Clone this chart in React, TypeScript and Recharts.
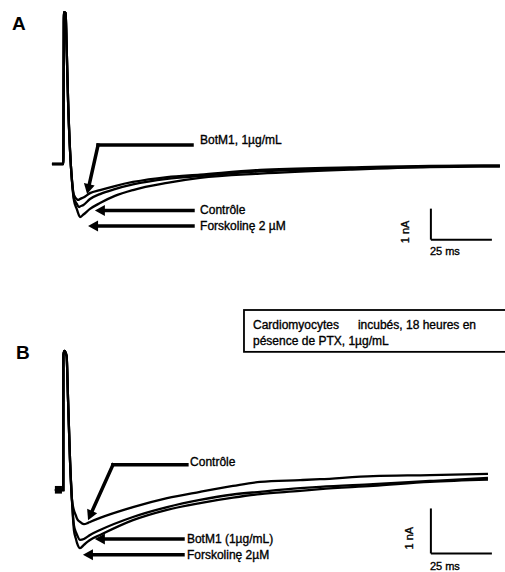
import React from "react";
import { LineChart, Line, XAxis, YAxis, ReferenceLine, ReferenceDot, ReferenceArea } from "recharts";

// time in ms, current in nA
const timeA = [0.8, 5.45, 5.7, 6.4, 6.8, 7.4, 8.2, 9.0, 9.8, 11.1, 11.5, 11.9, 12.3, 13.7, 16.4, 20.5, 26.6, 34.0, 48.0, 61.5, 86.1, 123.0, 155.7, 184.4];
const botm1A = [0, 0, 4.9, 4.87, 3.84, 2.06, 0.45, -0.52, -1.0, -1.14, -1.16, -1.15, -1.13, -1.08, -0.94, -0.84, -0.71, -0.58, -0.42, -0.34, -0.19, -0.11, -0.06, -0.05];
const controleA = [0, 0, 4.9, 4.87, 3.84, 2.06, 0.45, -0.52, -1.1, -1.3, -1.36, -1.39, -1.37, -1.32, -1.13, -0.97, -0.81, -0.66, -0.48, -0.39, -0.24, -0.15, -0.08, -0.05];
const forskolineA = [0, 0, 4.9, 4.87, 3.84, 2.06, 0.45, -0.55, -1.16, -1.48, -1.58, -1.66, -1.71, -1.63, -1.45, -1.26, -1.03, -0.84, -0.61, -0.45, -0.31, -0.18, -0.1, -0.08];

const timeB = [2.0, 5.45, 5.5, 5.9, 6.8, 7.4, 8.2, 9.0, 9.8, 10.7, 11.1, 12.3, 13.9, 15.6, 16.4, 20.5, 34.0, 48.0, 61.5, 75.0, 86.1, 102.5, 110.7, 132.4, 155.7, 179.5];
const controleB = [0, 0, 3.0, 3.09, 2.98, 2.0, 0.67, -0.22, -0.45, -0.58, -0.64, -0.71, -0.76, -0.73, -0.71, -0.62, -0.38, -0.18, -0.04, 0.09, 0.18, 0.22, 0.24, 0.31, 0.33, 0.36];
const botm1B = [0, 0, 3.0, 3.09, 2.98, 2.0, 0.67, -0.22, -0.78, -0.95, -1.0, -1.11, -1.09, -1.03, -1.0, -0.89, -0.6, -0.38, -0.22, -0.1, -0.04, 0.04, 0.07, 0.13, 0.2, 0.27];
const forskolineB = [0, 0, 3.0, 3.09, 2.98, 2.0, 0.67, -0.22, -0.89, -1.1, -1.18, -1.29, -1.22, -1.14, -1.11, -1.0, -0.67, -0.44, -0.29, -0.17, -0.09, -0.02, 0.02, 0.09, 0.18, 0.23];

// annotation arrows: label, path (ms, nA) ending at the arrow tip, label anchor
const arrowsA = [
  { label: "BotM1, 1µg/mL", path: [[58.2, 0.61], [19.7, 0.61], [15.2, -0.97]], at: [61.5, 0.77] },
  { label: "Contrôle", path: [[58.6, -1.5], [18.4, -1.5]], at: [61.5, -1.48] },
  { label: "Forskolinę 2 µM", path: [[58.6, -2.0], [15.6, -2.0]], at: [61.5, -2.0] },
];
const arrowsB = [
  { label: "Contrôle", path: [[56.1, 0.56], [25.8, 0.56], [15.6, -0.67]], at: [57.4, 0.62] },
  { label: "BotM1 (1µg/mL)", path: [[54.5, -1.09], [18.4, -1.09]], at: [56.1, -1.09] },
  { label: "Forskolinę 2µM", path: [[54.5, -1.44], [13.5, -1.44]], at: [56.1, -1.44] },
];

// scale bars: corner, 25 ms / 1 nA, label anchors
const scaleA = { corner: [156.1, -2.44], nA: [145.7, -2.19], ms: [155.7, -2.81] };
const scaleB = { corner: [156.1, -1.41], nA: [147.1, -1.07], ms: [155.7, -1.69] };

const PX_PER_MS = 2.44;
const FONT = "'Liberation Sans', Arial, sans-serif";
const W = 505;
const LEFT = 50;
const xMax = (W - LEFT) / PX_PER_MS;

const rows = (t: number[], a: number[], b: number[], c: number[]) =>
  t.map((v, i) => ({ t: v, bot: a[i], ctrl: b[i], forsk: c[i] }));

const arrowShape = (head: boolean) => (p: any) => {
  const { x1, y1, x2, y2 } = p;
  if (!head) {
    return <line x1={x1} y1={y1} x2={x2} y2={y2} stroke="#000" strokeWidth={3.5} strokeLinecap="square" />;
  }
  const dx = x2 - x1;
  const dy = y2 - y1;
  const len = Math.hypot(dx, dy) || 1;
  const ux = dx / len;
  const uy = dy / len;
  const hl = 10;
  const hw = 5.5;
  const bx = x2 - ux * hl;
  const by = y2 - uy * hl;
  return (
    <g>
      <line x1={x1} y1={y1} x2={bx} y2={by} stroke="#000" strokeWidth={3.5} strokeLinecap="square" />
      <polygon
        points={`${x2},${y2} ${bx - uy * hw},${by + ux * hw} ${bx + uy * hw},${by - ux * hw}`}
        fill="#000"
      />
    </g>
  );
};

const textShape = (label: string, size = 12, rotate = false) => (p: any) => (
  <text
    x={p.cx}
    y={p.cy}
    fontFamily={FONT}
    fontSize={size}
    fill="#000"
    stroke="#000"
    strokeWidth={0.35}
    dominantBaseline="central"
    textAnchor={rotate ? "middle" : "start"}
    transform={rotate ? `rotate(-90 ${p.cx} ${p.cy})` : undefined}
  >
    {label}
  </text>
);

function Panel({ data, yDomain, height, arrows, scale, children }: any) {
  const [cx, cy] = scale.corner;
  return (
    <LineChart width={W} height={height} data={data} margin={{ top: 0, right: 0, bottom: 0, left: LEFT }}>
      <XAxis dataKey="t" type="number" domain={[0, xMax]} hide allowDataOverflow />
      <YAxis type="number" domain={yDomain} hide allowDataOverflow />
      {children}
      <Line dataKey="bot" type="monotone" stroke="#000" strokeWidth={2.3} dot={false} isAnimationActive={false} />
      <Line dataKey="ctrl" type="monotone" stroke="#000" strokeWidth={2.3} dot={false} isAnimationActive={false} />
      <Line dataKey="forsk" type="monotone" stroke="#000" strokeWidth={2.3} dot={false} isAnimationActive={false} />
      {arrows.map((a: any, i: number) =>
        a.path.slice(1).map((pt: number[], j: number) => (
          <ReferenceLine
            key={`arr-${i}-${j}`}
            segment={[{ x: a.path[j][0], y: a.path[j][1] }, { x: pt[0], y: pt[1] }]}
            shape={arrowShape(j === a.path.length - 2)}
          />
        ))
      )}
      {arrows.map((a: any, i: number) => (
        <ReferenceDot key={`lbl-${i}`} x={a.at[0]} y={a.at[1]} r={0} shape={textShape(a.label)} />
      ))}
      <ReferenceLine segment={[{ x: cx, y: cy }, { x: cx, y: cy + 1 }]} stroke="#000" strokeWidth={2} />
      <ReferenceLine segment={[{ x: cx, y: cy }, { x: cx + 25, y: cy }]} stroke="#000" strokeWidth={2} />
      <ReferenceDot x={scale.nA[0]} y={scale.nA[1]} r={0} shape={textShape("1 nA", 11, true)} />
      <ReferenceDot x={scale.ms[0]} y={scale.ms[1]} r={0} shape={textShape("25 ms", 11)} />
    </LineChart>
  );
}

const boxShape = (p: any) => (
  <rect x={p.x} y={p.y} width={p.width + 4} height={p.height} fill="#fff" stroke="#000" strokeWidth={1.8} />
);

export default function App() {
  const hA = 280;
  const hB = 292;
  const domA = [-(hA - 164) / 31, 164 / 31];
  const domB = [-(hB - 210) / 45, 210 / 45];
  const letter: React.CSSProperties = {
    position: "absolute",
    fontFamily: FONT,
    fontWeight: 700,
    fontSize: 19,
    lineHeight: "19px",
  };
  return (
    <div style={{ position: "absolute", left: 0, top: 0, width: W, height: 572, background: "#fff", overflow: "hidden" }}>
      <div style={{ position: "absolute", left: 0, top: 0 }}>
        <Panel data={rows(timeA, botm1A, controleA, forskolineA)} yDomain={domA} height={hA} arrows={arrowsA} scale={scaleA} />
      </div>
      <div style={{ position: "absolute", left: 0, top: hA }}>
        <Panel data={rows(timeB, botm1B, controleB, forskolineB)} yDomain={domB} height={hB} arrows={arrowsB} scale={scaleB}>
          <ReferenceArea x1={2.0} x2={4.9} y1={-0.08} y2={0.09} fill="#000" fillOpacity={1} stroke="none" />
          <ReferenceArea x1={79.5} x2={xMax} y1={3.07} y2={4.0} shape={boxShape} />
          <ReferenceDot x={83.2} y={3.66} r={0} shape={textShape("Cardiomyocytes")} />
          <ReferenceDot x={126.2} y={3.66} r={0} shape={textShape("incubés, 18 heures en")} />
          <ReferenceDot x={83.2} y={3.31} r={0} shape={textShape("pésence de PTX, 1µg/mL")} />
        </Panel>
      </div>
      <div style={{ ...letter, left: 12, top: 14 }}>A</div>
      <div style={{ ...letter, left: 16, top: 343 }}>B</div>
    </div>
  );
}
